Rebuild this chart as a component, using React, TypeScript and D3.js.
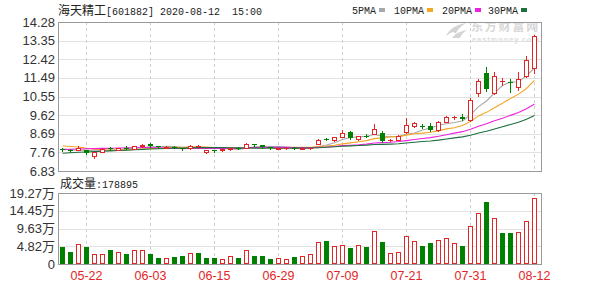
import React from "react";
import * as d3 from "d3";

const dates = ["05-19","05-20","05-21","05-22","05-25","05-26","05-27","05-28","05-29","06-01","06-02","06-03","06-04","06-05","06-08","06-09","06-10","06-11","06-12","06-15","06-16","06-17","06-18","06-19","06-22","06-23","06-24","06-29","06-30","07-01","07-02","07-03","07-06","07-07","07-08","07-09","07-10","07-13","07-14","07-15","07-16","07-17","07-20","07-21","07-22","07-23","07-24","07-27","07-28","07-29","07-30","07-31","08-03","08-04","08-05","08-06","08-07","08-10","08-11","08-12"];

const openP = [7.93,7.88,7.88,7.86,7.56,7.78,8.00,7.90,7.98,7.94,8.07,8.19,8.06,8.00,8.04,7.98,7.97,8.06,7.76,7.86,7.86,7.93,8.00,8.00,8.18,8.12,8.03,7.95,7.97,7.99,7.93,7.96,8.19,8.42,8.36,8.55,8.80,8.41,8.58,8.69,8.75,8.37,8.39,8.80,9.06,9.10,9.09,8.86,9.30,9.51,9.52,9.38,10.72,11.72,10.72,11.31,11.30,11.03,11.56,11.97];
const highP = [7.98,7.92,8.10,7.90,7.78,7.98,8.05,7.99,8.08,8.09,8.20,8.22,8.08,8.06,8.06,8.00,8.14,8.12,7.88,7.89,7.94,8.00,8.02,8.25,8.20,8.14,8.05,8.00,8.02,8.01,7.98,8.00,8.42,8.50,8.55,8.89,8.82,8.60,8.66,9.16,8.85,8.45,8.62,9.50,9.28,9.20,9.25,9.35,9.60,9.60,9.70,10.50,11.43,12.05,11.80,11.48,11.45,11.80,12.58,13.65];
const lowP = [7.84,7.80,7.86,7.70,7.50,7.76,7.90,7.86,7.93,7.92,8.04,8.05,7.99,7.98,7.97,7.88,7.95,8.00,7.72,7.80,7.84,7.90,7.93,7.98,8.08,8.00,7.94,7.92,7.94,7.92,7.91,7.94,8.17,8.37,8.34,8.53,8.45,8.40,8.52,8.66,8.28,8.33,8.36,8.75,9.02,9.00,8.84,8.84,9.28,9.44,9.40,9.33,10.60,10.85,10.69,11.15,10.78,10.88,11.52,11.74];
const closeP = [7.86,7.84,7.98,7.74,7.76,7.95,7.93,7.96,7.95,8.06,8.12,8.08,8.02,8.04,8.00,7.92,8.10,8.06,7.86,7.84,7.92,7.98,7.96,8.17,8.14,8.04,7.96,7.98,8.00,7.94,7.96,7.98,8.39,8.38,8.52,8.75,8.47,8.56,8.55,8.94,8.31,8.40,8.59,9.14,9.23,9.06,8.86,9.30,9.52,9.54,9.45,10.39,11.35,10.92,11.56,11.31,11.26,11.43,12.36,13.60];
// closes of the 29 sessions before the window (for the moving averages)
const priorCloses = [7.20,7.25,7.30,7.28,7.35,7.40,7.38,7.45,7.47,7.52,7.55,7.60,7.58,7.65,7.70,7.72,7.78,7.80,7.88,7.94,8.10,8.25,8.32,8.28,8.20,8.05,7.98,7.88,7.88];
// volume in 万手
const volume = [4.52,3.35,5.43,4.52,2.80,2.62,3.71,3.17,2.62,3.71,3.71,2.62,1.72,1.72,1.99,2.26,2.90,3.08,1.72,1.72,1.45,2.17,1.72,3.71,2.26,2.26,1.45,1.72,1.45,1.99,2.26,2.80,5.97,6.24,4.80,5.07,4.34,5.07,4.52,9.05,5.88,3.08,3.35,7.69,6.24,4.80,5.61,6.51,7.15,5.61,4.80,10.40,13.84,16.90,12.40,8.41,8.41,8.77,11.58,17.8895];

const priceTicks = [14.28,13.35,12.42,11.49,10.55,9.62,8.69,7.76,6.83];
const volTicks = [19.27,14.45,9.63,4.82,0];
const dateTicks = ["05-22","06-03","06-15","06-29","07-09","07-21","07-31","08-12"];
const maPeriods = [5,10,20,30];
const maNames = ["5PMA","10PMA","20PMA","30PMA"];
const maColors = ["#a8a8a8","#f5a623","#ee22dd","#1d6e40"];

const RED = "#e42525";
const GREEN = "#008000";
const FRAME = "#9a9a9a";
const GRID = "#e2e2e2";

export default function App() {
  const L = 58, R = 542;
  const x = d3.scaleBand<string>().domain(dates).range([L, 538]).paddingInner(0.375).paddingOuter(0.1875);
  const cx = (i: number) => Math.floor((x(dates[i]) as number) + x.bandwidth() / 2) + 0.5;
  const y = d3.scaleLinear().domain([6.83, 14.28]).range([171, 22]);
  const vy = d3.scaleLinear().domain([0, 19.27]).range([264, 193]);
  const ry = (v: number) => Math.round(y(v));

  const all = priorCloses.concat(closeP);
  const off = priorCloses.length;
  const mas = maPeriods.map((n) =>
    closeP.map((_, i) => d3.mean(all.slice(off + i - n + 1, off + i + 1)) as number)
  );
  const line = d3.line<number>().x((_, i) => cx(i)).y((v) => y(v));

  const sans = "'Liberation Sans', Arial, sans-serif";
  const mono = "'Liberation Mono', 'DejaVu Sans Mono', monospace";
  const cjk = "'Noto Sans CJK SC', sans-serif";

  return (
    <svg width={600} height={286} style={{ position: "absolute", left: 0, top: 0, background: "#fff" }}>
      <defs>
        <clipPath id="plot"><rect x={L} y={22} width={R - L} height={150} /></clipPath>
      </defs>
      {/* title */}
      <text x={58} y={15} fill="#222" style={{ whiteSpace: "pre" }}>
        <tspan fontFamily={cjk} fontSize={12}>海天精工</tspan>
        <tspan fontFamily={mono} fontSize={10}>[601882] 2020-08-12  15:00</tspan>
      </text>
      {/* legend */}
      {maNames.map((n, k) => {
        const lx = [352, 394, 442, 488][k];
        const w = n.length * 6;
        return (
          <g key={n}>
            <text x={lx} y={14} fontFamily={mono} fontSize={10} fill="#222">{n}</text>
            <rect x={lx + w + 3} y={8} width={6} height={4} fill={maColors[k]} />
          </g>
        );
      })}
      {/* price grid */}
      {priceTicks.map((t) => (
        <line key={"pg" + t} x1={L} x2={R} y1={ry(t) + 0.5} y2={ry(t) + 0.5} stroke={GRID} />
      ))}
      {volTicks.map((t) => (
        <line key={"vg" + t} x1={L} x2={R} y1={Math.round(vy(t)) + 0.5} y2={Math.round(vy(t)) + 0.5} stroke={GRID} />
      ))}
      {dateTicks.map((d) => {
        const xx = cx(dates.indexOf(d));
        return (
          <g key={"vd" + d}>
            <line x1={xx} x2={xx} y1={22} y2={171} stroke="#cfcfcf" strokeDasharray="3,3" />
            <line x1={xx} x2={xx} y1={193} y2={264} stroke="#cfcfcf" strokeDasharray="3,3" />
          </g>
        );
      })}
      {/* watermark */}
      <g clipPath="url(#plot)" fill="#d4d4d4">
        <path d="M446,36 C450,28 456,25 466,23 C460,27 457,30 456,34 C454,31 451,32 446,36 Z" />
        <path d="M452,38 C456,33 461,31 467,30 C463,33 461,35 460,38 Z" />
        <text x={471} y={31} fontFamily={cjk} fontSize={12} fontWeight="bold" fill="#d8d8d8" letterSpacing={1.8}>东方财富网</text>
        <text x={472} y={42} fontFamily={sans} fontSize={7.5} fontWeight="bold" fill="#dcdcdc" letterSpacing={0.9}>eastmoney.com</text>
      </g>
      {/* frames */}
      <rect x={L + 0.5} y={ry(14.28) + 0.5} width={R - L - 1} height={ry(6.83) - ry(14.28)} fill="none" stroke={FRAME} />
      <rect x={L + 0.5} y={Math.round(vy(19.27)) + 0.5} width={R - L - 1} height={Math.round(vy(0)) - Math.round(vy(19.27))} fill="none" stroke={FRAME} />
      {/* price axis labels */}
      {priceTicks.map((t) => (
        <text key={"pl" + t} x={55} y={y(t) + 4.6} textAnchor="end" fontFamily={sans} fontSize={13} fill="#333">{t.toFixed(2)}</text>
      ))}
      {volTicks.map((t) => (
        <text key={"vl" + t} x={55} y={vy(t) + 4.6} textAnchor="end" fill="#333">
          <tspan fontFamily={sans} fontSize={13}>{t === 0 ? "0" : t.toFixed(2)}</tspan>
          {t === 0 ? null : <tspan fontFamily={cjk} fontSize={13}>万</tspan>}
        </text>
      ))}
      {dateTicks.map((d) => (
        <text key={"dl" + d} x={cx(dates.indexOf(d))} y={280} textAnchor="middle" fontFamily={sans} fontSize={12.5} fill={RED}>{d}</text>
      ))}
      {/* volume title */}
      <text x={60} y={188} fill="#222">
        <tspan fontFamily={cjk} fontSize={12}>成交量</tspan>
        <tspan fontFamily={mono} fontSize={10}>:{Math.round(volume[volume.length - 1] * 10000)}</tspan>
      </text>
      {/* MA lines */}
      <g clipPath="url(#plot)">
        {mas.map((m, k) => (
          <path key={"ma" + k} d={line(m) || ""} fill="none" stroke={maColors[k]} strokeWidth={1.1} />
        ))}
      </g>
      {/* candles */}
      {dates.map((d, i) => {
        const o = openP[i], c = closeP[i], h = highP[i], l = lowP[i];
        const xc = cx(i);
        const up = c >= o;
        const top = ry(Math.max(o, c));
        const bot = ry(Math.min(o, c));
        if (up) {
          return (
            <g key={"c" + i} stroke={RED}>
              <line x1={xc} x2={xc} y1={ry(h)} y2={top} />
              <line x1={xc} x2={xc} y1={bot + 1} y2={ry(l) + 1} />
              {bot - top >= 1 ? (
                <rect x={xc - 2} y={top + 0.5} width={4} height={bot - top} fill="#fff" />
              ) : (
                <line x1={xc - 2.5} x2={xc + 2.5} y1={top + 0.5} y2={top + 0.5} />
              )}
            </g>
          );
        }
        return (
          <g key={"c" + i}>
            <line x1={xc} x2={xc} y1={ry(h)} y2={ry(l) + 1} stroke={GREEN} />
            <rect x={xc - 2.5} y={top} width={5} height={Math.max(1, bot - top)} fill={GREEN} />
          </g>
        );
      })}
      {/* volume bars */}
      {volume.map((v, i) => {
        const prev = i === 0 ? priorCloses[priorCloses.length - 1] : closeP[i - 1];
        const up = closeP[i] >= prev;
        const xc = cx(i);
        const t = Math.round(vy(v));
        const b = Math.round(vy(0));
        return up ? (
          <rect key={"v" + i} x={xc - 2} y={t + 0.5} width={4} height={b - t - 1} fill="#fff" stroke={RED} />
        ) : (
          <rect key={"v" + i} x={xc - 2.5} y={t} width={5} height={b - t} fill={GREEN} />
        );
      })}
    </svg>
  );
}
